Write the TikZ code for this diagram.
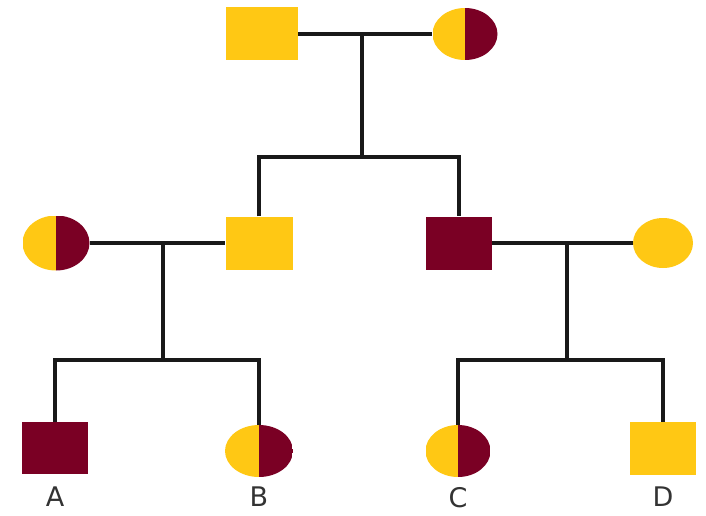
\documentclass[tikz,border=0pt]{standalone}
\usepackage{fontspec}
\setmainfont{DejaVu Sans}
\usetikzlibrary{shapes.geometric}
\definecolor{yl}{HTML}{FFC814}
\definecolor{dr}{HTML}{7A0024}
\definecolor{lbl}{HTML}{333333}
\tikzset{
  male/.style={rectangle, inner sep=0pt, minimum width=67pt, minimum height=53pt},
  female/.style={ellipse, inner sep=0pt, minimum width=65pt, minimum height=52pt},
  yfill/.style={fill=yl},
  dfill/.style={fill=dr},
  half/.style={path picture={
    \fill[yl] (path picture bounding box.south west) rectangle (path picture bounding box.north);
    \fill[dr] (path picture bounding box.south) rectangle (path picture bounding box.north east);}},
  link/.style={draw=black!90, line width=3.5pt},
  lab/.style={text=lbl, font=\fontsize{27}{30}\selectfont, inner sep=0pt}
}
\begin{document}
\begin{tikzpicture}[x=1pt,y=-1pt]
\useasboundingbox (0,0) rectangle (706,516);
% generation 1
\node[male, yfill, minimum width=72pt] (gf) at (262,34) {};
\node[female, half] (gm) at (465,34) {};
% generation 2
\node[female, half, minimum width=67pt, minimum height=55pt] (w1) at (56,243) {};
\node[male, yfill] (s1) at (259,243) {};
\node[male, dfill, minimum width=66pt] (s2) at (459,243) {};
\node[female, yfill, minimum width=60pt, minimum height=50pt] (w2) at (663,243) {};
% generation 3
\node[male, dfill, minimum width=66pt, minimum height=52pt] (a) at (55,448) {};
\node[female, half, minimum width=68pt] (b) at (259,451) {};
\node[female, half] (c) at (458,451) {};
\node[male, yfill, minimum width=66pt] (d) at (663,448.5) {};
% labels
\node[lab, anchor=north] (la) at (55,487) {A};
\node[lab, anchor=north] (lb) at (259,487) {B};
\node[lab, anchor=north] (lc) at (458,487) {C};
\node[lab, anchor=north] (ld) at (663,487) {D};
% junctions
\coordinate (m1) at (362,34);
\coordinate (k1) at (362,157);
\coordinate (m2) at (163,243);
\coordinate (k2) at (163,360);
\coordinate (m3) at (567,243);
\coordinate (k3) at (567,360);
% connectors
\draw[link] (gf.east) -- (gm.west);
\draw[link] (m1) -- (k1);
\draw[link] (s1.north) |- (k1) -| (s2.north);
\draw[link] (w1.east) -- (s1.west);
\draw[link] (m2) -- (k2);
\draw[link] (a.north) |- (k2) -| (b.north);
\draw[link] (s2.east) -- (w2.west);
\draw[link] (m3) -- (k3);
\draw[link] (c.north) |- (k3) -| (d.north);
\end{tikzpicture}
\end{document}
